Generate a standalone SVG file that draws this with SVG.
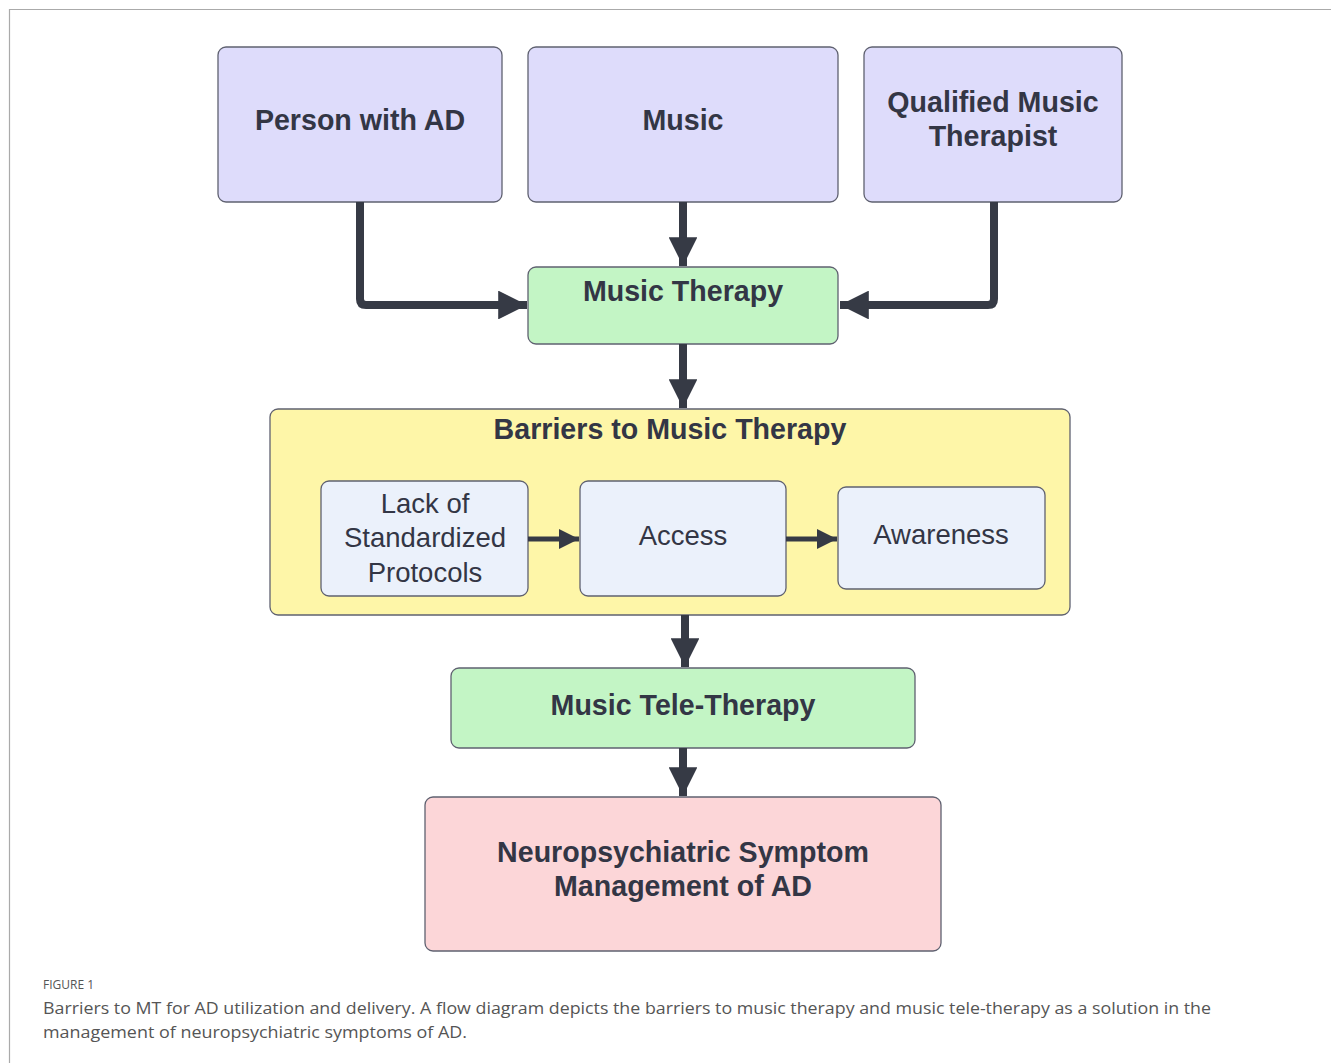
<svg xmlns="http://www.w3.org/2000/svg" width="1331" height="1063" viewBox="0 0 1331 1063">
<defs>
<style>
.lbl{font-family:"Liberation Sans",Arial,sans-serif;font-weight:bold;font-size:28.6px;fill:#333645;text-anchor:middle}
.reg{font-family:"Liberation Sans",Arial,sans-serif;font-size:27.5px;fill:#333645;text-anchor:middle}
.box{stroke:#5f6170;stroke-width:1.3}
.purple{fill:#dedcfb}
.green{fill:#c3f5c5}
.yellow{fill:#fef6a8}
.blue{fill:#ebf1fb}
.pink{fill:#fcd6d8}
.conn{fill:none;stroke:#363a45;stroke-width:8;stroke-linejoin:round}
.conns{fill:none;stroke:#363a45;stroke-width:5}
.cap{font-family:"Open Sans","Liberation Sans",sans-serif;fill:#555}
</style>
<marker id="ah" viewBox="0 0 10 10" refX="10" refY="5" markerWidth="5" markerHeight="3.6" markerUnits="strokeWidth" orient="auto">
<path d="M0,0 L10,5 L0,10 Z" fill="#363a45"/>
</marker>
<marker id="ahs" viewBox="0 0 10 10" refX="10" refY="5" markerWidth="5.2" markerHeight="4" markerUnits="strokeWidth" orient="auto">
<path d="M0,0 L10,5 L0,10 Z" fill="#363a45"/>
</marker>
</defs>
<rect x="0" y="0" width="1331" height="1063" fill="#ffffff"/>
<path d="M9.5,1063 V9.5 H1331" fill="none" stroke="#aaaaaa" stroke-width="1.2"/>

<g id="person">
<rect class="box purple" x="218" y="47" width="284" height="155" rx="8"/>
<text class="lbl" x="360" y="130">Person with AD</text>
</g>
<g id="music">
<rect class="box purple" x="528" y="47" width="310" height="155" rx="8"/>
<text class="lbl" x="683" y="130">Music</text>
</g>
<g id="therapist">
<rect class="box purple" x="864" y="47" width="258" height="155" rx="8"/>
<text class="lbl" x="993" y="112">Qualified Music</text>
<text class="lbl" x="993" y="146">Therapist</text>
</g>
<g id="music-therapy">
<rect class="box green" x="528" y="267" width="310" height="77" rx="8"/>
<text class="lbl" x="683" y="301">Music Therapy</text>
</g>
<g id="barriers">
<rect class="box yellow" x="270" y="409" width="800" height="206" rx="8"/>
<text class="lbl" x="670" y="439">Barriers to Music Therapy</text>
</g>
<g id="lack">
<rect class="box blue" x="321" y="481" width="207" height="115" rx="8"/>
<text class="reg" x="425" y="513">Lack of</text>
<text class="reg" x="425" y="547">Standardized</text>
<text class="reg" x="425" y="582">Protocols</text>
</g>
<g id="access">
<rect class="box blue" x="580" y="481" width="206" height="115" rx="8"/>
<text class="reg" x="683" y="545">Access</text>
</g>
<g id="awareness">
<rect class="box blue" x="838" y="487" width="207" height="102" rx="8"/>
<text class="reg" x="941" y="544">Awareness</text>
</g>
<g id="tele">
<rect class="box green" x="451" y="668" width="464" height="80" rx="8"/>
<text class="lbl" x="683" y="715">Music Tele-Therapy</text>
</g>
<g id="neuro">
<rect class="box pink" x="425" y="797" width="516" height="154" rx="8"/>
<text class="lbl" x="683" y="862">Neuropsychiatric Symptom</text>
<text class="lbl" x="683" y="896">Management of AD</text>
</g>

<g id="connectors">
<path class="conn" d="M360,202 V299 Q360,305 366,305 H527" marker-end="url(#ah)"/>
<path class="conn" d="M994,202 V299 Q994,305 988,305 H840" marker-end="url(#ah)"/>
<path class="conn" d="M683,202 V266" marker-end="url(#ah)"/>
<path class="conn" d="M683,344 V408" marker-end="url(#ah)"/>
<path class="conn" d="M685,615 V667" marker-end="url(#ah)"/>
<path class="conn" d="M683,748 V796" marker-end="url(#ah)"/>
<path class="conns" d="M528,539 H579" marker-end="url(#ahs)"/>
<path class="conns" d="M786,539 H837" marker-end="url(#ahs)"/>
</g>

<g id="caption">
<text class="cap" x="43" y="989" font-size="12" fill="#666">FIGURE 1</text>
<text class="cap" x="43" y="1014" font-size="17" textLength="1168" lengthAdjust="spacingAndGlyphs">Barriers to MT for AD utilization and delivery. A flow diagram depicts the barriers to music therapy and music tele-therapy as a solution in the</text>
<text class="cap" x="43" y="1038" font-size="17" textLength="424" lengthAdjust="spacingAndGlyphs">management of neuropsychiatric symptoms of AD.</text>
</g>
</svg>
